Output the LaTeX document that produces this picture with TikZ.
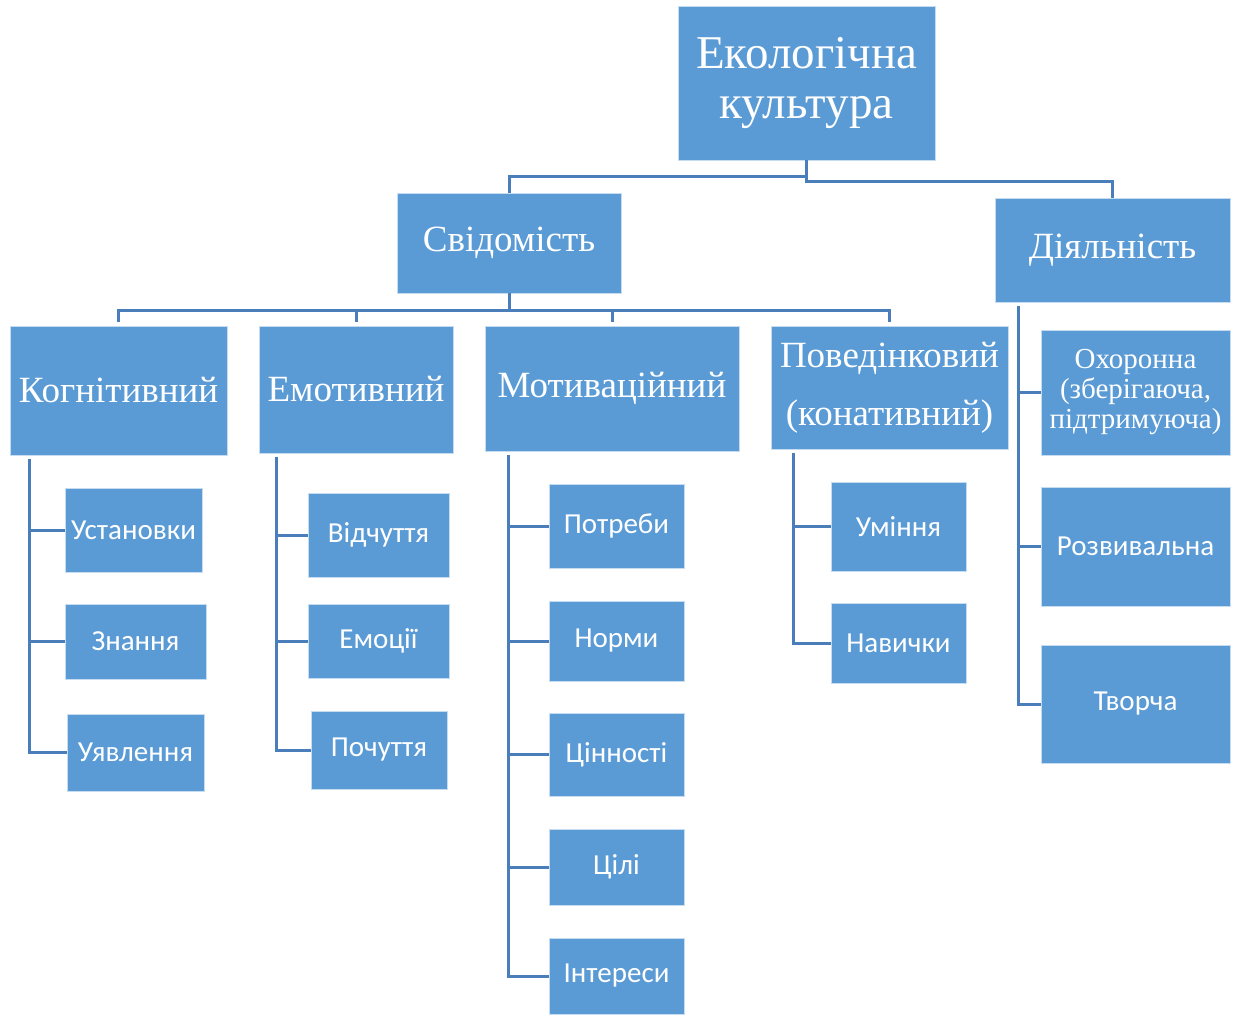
\documentclass[tikz,border=0pt]{standalone}
\usepackage{fontspec}
\setmainfont{Liberation Serif}
\newfontfamily\leaffont{Carlito}
\definecolor{boxblue}{HTML}{5B9BD5}
\definecolor{linkblue}{HTML}{4A7EBB}
\begin{document}
\begin{tikzpicture}[x=1pt,y=-1pt,
    box/.style={rectangle,fill=boxblue,draw=boxblue!35!white,line width=.8pt,
      text=white,inner sep=0pt,align=center},
    big/.style={font=\fontsize{37}{58}\selectfont},
    leaf/.style={font=\leaffont\fontsize{29}{30}\selectfont},
    link/.style={draw=linkblue,line width=3pt}]

      \useasboundingbox (0,0) rectangle (1234,1015);

      \begin{scope}[every node/.style={box}]
        % upper levels
        \node[font=\fontsize{47}{50}\selectfont,minimum width=257,minimum height=154]
          (eco) at (806.5,83) {Екологічна\\культура};
        \node[big,minimum width=224,minimum height=100] (svid) at (509,243) {Свідомість};
        \node[big,minimum width=235,minimum height=104] (dial) at (1112.5,250) {Діяльність};
        \node[big,minimum width=217,minimum height=129] (kog)   at (118.5,390.5) {Когнітивний};
        \node[big,minimum width=194,minimum height=127] (emot)  at (356,389.5) {Емотивний};
        \node[big,minimum width=254,minimum height=125] (motiv) at (612,388.5) {Мотиваційний};
        \node[big,minimum width=237,minimum height=123] (pov)   at (889.5,387.5) {Поведінковий\\(конативний)};

        % leaves
        \node[leaf,minimum width=137,minimum height=84] (ust)   at (133.5,530) {Установки};
        \node[leaf,minimum width=141,minimum height=75] (znan)  at (135.5,641.5) {Знання};
        \node[leaf,minimum width=137,minimum height=77] (uyav)  at (135.5,752.5) {Уявлення};
        \node[leaf,minimum width=141,minimum height=84] (vidch) at (378.5,535) {Відчуття};
        \node[leaf,minimum width=141,minimum height=74] (emoc)  at (378.5,641) {Емоції};
        \node[leaf,minimum width=136,minimum height=78] (poch)  at (379,750) {Почуття};
        \node[leaf,minimum width=135,minimum height=84] (potr)  at (616.5,526) {Потреби};
        \node[leaf,minimum width=135,minimum height=80] (norm)  at (616.5,641) {Норми};
        \node[leaf,minimum width=135,minimum height=83] (cinn)  at (616.5,754.5) {Цінності};
        \node[leaf,minimum width=135,minimum height=76] (cili)  at (616.5,867) {Цілі};
        \node[leaf,minimum width=135,minimum height=76] (inter) at (616.5,976) {Інтереси};
        \node[leaf,minimum width=135,minimum height=89] (umin)  at (898.5,526.5) {Уміння};
        \node[leaf,minimum width=135,minimum height=80] (navy)  at (898.5,643) {Навички};
        \node[font=\fontsize{29}{30}\selectfont,minimum width=189,minimum height=125]
          (ohor) at (1135.5,392.5) {Охоронна\\(зберігаюча,\\підтримуюча)};
        \node[leaf,minimum width=189,minimum height=119] (rozv) at (1135.5,546.5) {Розвивальна};
        \node[leaf,minimum width=189,minimum height=118] (tvor) at (1135.5,704) {Творча};
      \end{scope}

      \begin{scope}[every path/.style={link}]
        \path (eco.south) -- ++(0,16) -| (svid.north);
        \path (eco.south) -- ++(0,21) -| (dial.north);
        \path[shorten >=4pt] (svid.south) -- ++(0,17) -| (kog.north);
        \path[shorten >=4pt] (svid.south) -- ++(0,17) -| (emot.north);
        \path[shorten >=4pt] (svid.south) -- ++(0,17) -| (motiv.north);
        \path[shorten >=4pt] (svid.south) -- ++(0,17) -| (pov.north);

        \path ([xshift=20pt,yshift=-4pt]kog.south west) |- (ust.west);
        \path ([xshift=20pt,yshift=-4pt]kog.south west) |- (znan.west);
        \path ([xshift=20pt,yshift=-4pt]kog.south west) |- (uyav.west);
        \path ([xshift=18pt,yshift=-4pt]emot.south west) |- (vidch.west);
        \path ([xshift=18pt,yshift=-4pt]emot.south west) |- (emoc.west);
        \path ([xshift=18pt,yshift=-4pt]emot.south west) |- (poch.west);
        \path ([xshift=24pt,yshift=-4pt]motiv.south west) |- (potr.west);
        \path ([xshift=24pt,yshift=-4pt]motiv.south west) |- (norm.west);
        \path ([xshift=24pt,yshift=-4pt]motiv.south west) |- (cinn.west);
        \path ([xshift=24pt,yshift=-4pt]motiv.south west) |- (cili.west);
        \path ([xshift=24pt,yshift=-4pt]motiv.south west) |- (inter.west);
        \path ([xshift=23pt,yshift=-4pt]pov.south west) |- (umin.west);
        \path ([xshift=23pt,yshift=-4pt]pov.south west) |- (navy.west);
        \path ([xshift=24pt,yshift=-4pt]dial.south west) |- (ohor.west);
        \path ([xshift=24pt,yshift=-4pt]dial.south west) |- (rozv.west);
        \path ([xshift=24pt,yshift=-4pt]dial.south west) |- (tvor.west);
      \end{scope}

    \end{tikzpicture}
\end{document}
